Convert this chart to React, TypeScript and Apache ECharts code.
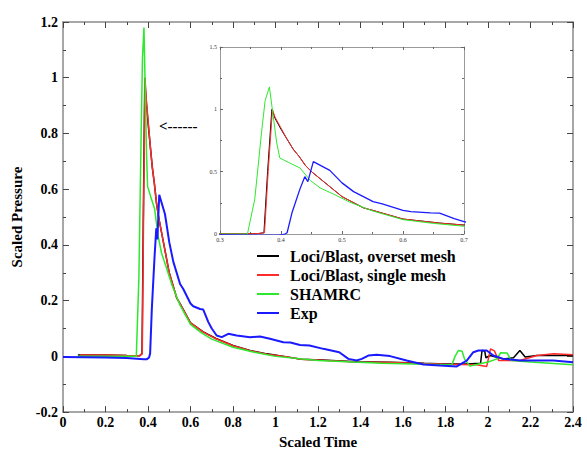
import React, { useEffect, useRef } from "react";
import * as echarts from "echarts";

// ---- data ----
const seriesNames = [
  "Loci/Blast, overset mesh",
  "Loci/Blast, single mesh",
  "SHAMRC",
  "Exp",
];

const oversetT = [0.07, 0.2, 0.3, 0.36, 0.372, 0.378, 0.385, 0.39, 0.4, 0.41, 0.42, 0.43, 0.44, 0.45, 0.47, 0.5, 0.535, 0.55, 0.6, 0.66, 0.72, 0.8, 0.88, 0.96, 1.04, 1.12, 1.22, 1.38, 1.54, 1.7, 1.8, 1.9, 1.965, 1.972, 1.985, 1.99, 2.01, 2.07, 2.12, 2.15, 2.175, 2.23, 2.31, 2.4];
const oversetV = [0.005, 0.005, 0.003, 0.002, 0.01, 0.5, 1.0, 0.93, 0.84, 0.76, 0.68, 0.62, 0.55, 0.5, 0.42, 0.3, 0.21, 0.19, 0.12, 0.088, 0.064, 0.039, 0.021, 0.009, 0.0, -0.01, -0.013, -0.019, -0.021, -0.025, -0.027, -0.027, -0.025, 0.022, 0.018, -0.005, 0.003, -0.009, -0.005, 0.021, -0.002, 0.003, 0.003, 0.003];

const singleT = [0.08, 0.2, 0.3, 0.36, 0.373, 0.379, 0.386, 0.39, 0.4, 0.41, 0.42, 0.43, 0.44, 0.45, 0.47, 0.5, 0.535, 0.55, 0.6, 0.66, 0.72, 0.8, 0.88, 0.96, 1.04, 1.12, 1.22, 1.38, 1.54, 1.7, 1.8, 1.946, 1.994, 2.012, 2.03, 2.05, 2.15, 2.23, 2.31, 2.4];
const singleV = [0.005, 0.005, 0.003, 0.002, 0.01, 0.5, 1.0, 0.94, 0.85, 0.76, 0.68, 0.62, 0.55, 0.5, 0.42, 0.3, 0.21, 0.19, 0.12, 0.087, 0.063, 0.038, 0.02, 0.008, 0.0, -0.01, -0.014, -0.02, -0.022, -0.026, -0.028, -0.03, -0.036, 0.027, 0.02, -0.015, -0.015, 0.003, 0.009, 0.006];

const shamrcT = [0.07, 0.3, 0.345, 0.357, 0.368, 0.374, 0.381, 0.393, 0.398, 0.412, 0.431, 0.448, 0.464, 0.486, 0.513, 0.55, 0.6, 0.65, 0.7, 0.8, 0.9, 1.0, 1.2, 1.5, 1.8, 1.83, 1.845, 1.86, 1.878, 1.89, 1.915, 1.95, 2.0, 2.04, 2.06, 2.09, 2.11, 2.2, 2.4];
const shamrcV = [0.0, 0.0, 0.0, 0.28, 0.81, 1.07, 1.18, 0.73, 0.61, 0.575, 0.53, 0.43, 0.37, 0.32, 0.255, 0.185, 0.115, 0.085, 0.062, 0.033, 0.015, 0.0, -0.015, -0.025, -0.03, -0.03, 0.0, 0.021, 0.018, -0.01, -0.035, -0.028, -0.02, -0.01, 0.013, 0.012, -0.015, -0.02, -0.03];

const expT = [0.0, 0.2, 0.3, 0.38, 0.395, 0.405, 0.41, 0.418, 0.431, 0.439, 0.444, 0.453, 0.48, 0.5, 0.519, 0.551, 0.566, 0.6, 0.613, 0.645, 0.66, 0.684, 0.7, 0.723, 0.747, 0.778, 0.817, 0.88, 0.927, 0.974, 1.037, 1.07, 1.115, 1.16, 1.225, 1.3, 1.343, 1.382, 1.406, 1.437, 1.476, 1.539, 1.617, 1.696, 1.774, 1.853, 1.9, 1.931, 1.955, 1.994, 2.025, 2.072, 2.151, 2.307, 2.4];
const expV = [-0.002, -0.004, -0.006, -0.01, -0.01, -0.004, 0.01, 0.17, 0.36, 0.46, 0.42, 0.58, 0.51, 0.41, 0.34, 0.26, 0.242, 0.19, 0.18, 0.17, 0.168, 0.123, 0.1, 0.075, 0.069, 0.081, 0.075, 0.069, 0.071, 0.063, 0.051, 0.05, 0.041, 0.039, 0.027, 0.015, -0.009, -0.015, -0.009, 0.003, 0.006, 0.001, -0.015, -0.029, -0.033, -0.036, -0.015, 0.015, 0.021, 0.021, 0.003, -0.009, -0.015, -0.015, -0.021];

const colors = ["#000000", "#ff2a2a", "#2ee82e", "#1a1aff"];
const widths = [1.5, 1.5, 1.5, 2];

const allT = [oversetT, singleT, shamrcT, expT];
const allV = [oversetV, singleV, shamrcV, expV];

const serif = "Liberation Serif";

function App() {
  const ref = useRef<HTMLDivElement>(null);
  useEffect(() => {
    if (!ref.current) return;
    const chart = echarts.init(ref.current, undefined, { renderer: "svg" });
    const frame = { show: true, onZero: false, lineStyle: { color: "#8a8a8a", width: 1.5 } };
    const insetFrame = { show: true, onZero: false, lineStyle: { color: "#9a9a9a", width: 1 } };
    const mainTickLabel = {
      fontFamily: serif,
      fontWeight: "bold" as const,
      fontSize: 14,
      color: "#000",
    };
    const insetLabel = { fontFamily: serif, fontSize: 6, color: "#333" };
    const mainX = (pos: string, labels: boolean, name?: string) => ({
      type: "value",
      gridIndex: 0,
      position: pos,
      min: 0,
      max: 2.4,
      interval: 0.2,
      axisLine: frame,
      axisTick: { show: true, inside: true, length: 6, lineStyle: { color: "#444" } },
      minorTick: { show: true, splitNumber: 2, length: 3, lineStyle: { color: "#444" } },
      splitLine: { show: false },
      axisLabel: { show: labels, margin: 3, ...mainTickLabel },
      name: name,
      nameLocation: "middle",
      nameGap: 17,
      nameTextStyle: { fontFamily: serif, fontWeight: "bold", fontSize: 15, color: "#000" },
    });
    const mainY = (pos: string, labels: boolean, name?: string) => ({
      type: "value",
      gridIndex: 0,
      position: pos,
      min: -0.2,
      max: 1.2,
      interval: 0.2,
      axisLine: frame,
      axisTick: { show: true, inside: true, length: 6, lineStyle: { color: "#444" } },
      minorTick: { show: true, splitNumber: 2, length: 3, lineStyle: { color: "#444" } },
      splitLine: { show: false },
      axisLabel: { show: labels, margin: 5, ...mainTickLabel },
      name: name,
      nameLocation: "middle",
      nameGap: 34,
      nameTextStyle: { fontFamily: serif, fontWeight: "bold", fontSize: 15, color: "#000" },
    });
    const insetX = (pos: string, labels: boolean) => ({
      type: "value",
      gridIndex: 1,
      position: pos,
      min: 0.3,
      max: 0.7,
      interval: 0.1,
      axisLine: insetFrame,
      axisTick: { show: true, inside: true, length: 3, lineStyle: { color: "#666" } },
      minorTick: { show: true, splitNumber: 2, length: 2, lineStyle: { color: "#666" } },
      splitLine: { show: false },
      axisLabel: { show: labels, margin: 3, ...insetLabel },
    });
    const insetY = (pos: string, labels: boolean) => ({
      type: "value",
      gridIndex: 1,
      position: pos,
      min: 0,
      max: 1.5,
      interval: 0.5,
      axisLine: insetFrame,
      axisTick: { show: true, inside: true, length: 3, lineStyle: { color: "#666" } },
      minorTick: { show: true, splitNumber: 2, length: 2, lineStyle: { color: "#666" } },
      splitLine: { show: false },
      axisLabel: { show: labels, margin: 3, ...insetLabel },
    });

    const series: any[] = [];
    for (let i = 0; i < 4; i++) {
      const data = allT[i].map((t, k) => [t, allV[i][k]]);
      series.push({
        type: "line",
        name: seriesNames[i],
        xAxisIndex: 0,
        yAxisIndex: 0,
        data,
        showSymbol: false,
        symbol: "none",
        clip: true,
        lineStyle: { color: colors[i], width: widths[i] },
        itemStyle: { color: colors[i] },
      });
    }
    for (let i = 0; i < 4; i++) {
      const data = allT[i].map((t, k) => [t, allV[i][k]]);
      series.push({
        type: "line",
        name: seriesNames[i],
        xAxisIndex: 2,
        yAxisIndex: 2,
        data,
        showSymbol: false,
        symbol: "none",
        clip: true,
        lineStyle: { color: colors[i], width: i === 3 ? 1.3 : 1 },
        itemStyle: { color: colors[i] },
      });
    }

    chart.setOption({
      animation: false,
      backgroundColor: "#fff",
      grid: [
        { left: 63, top: 22, width: 510, height: 392, containLabel: false },
        { left: 220, top: 47, width: 244, height: 187, containLabel: false },
      ],
      xAxis: [mainX("bottom", true, "Scaled Time"), mainX("top", false), insetX("bottom", true), insetX("top", false)],
      yAxis: [mainY("left", true, "Scaled Pressure"), mainY("right", false), insetY("left", true), insetY("right", false)],
      legend: {
        data: seriesNames,
        orient: "vertical",
        left: 252,
        top: 243,
        icon: "rect",
        itemWidth: 22,
        itemHeight: 2,
        itemGap: 3,
        textStyle: {
          fontFamily: serif,
          fontWeight: "bold",
          fontSize: 16,
          color: "#000",
          lineHeight: 16,
          padding: [0, 0, 0, 6],
        },
      },
      graphic: [
        {
          type: "text",
          left: 159,
          top: 118,
          style: {
            text: "<------",
            font: "bold 15px 'Liberation Serif'",
            fill: "#000",
          },
        },
      ],
      series,
    });
    return () => chart.dispose();
  }, []);
  return (
    <div
      ref={ref}
      style={{ position: "fixed", left: 0, top: 0, width: 587, height: 454, background: "#fff" }}
    />
  );
}

export default App;
